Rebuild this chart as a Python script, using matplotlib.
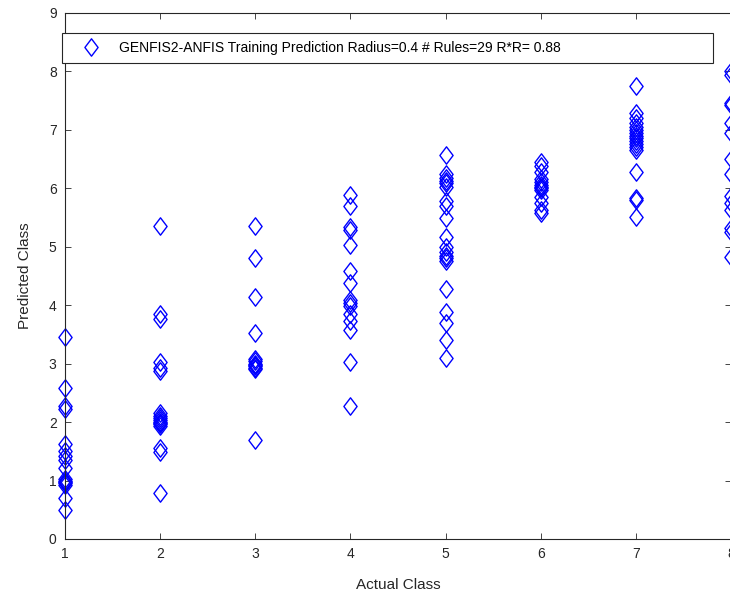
import matplotlib

matplotlib.use('Agg')

import matplotlib.pyplot as plt
from matplotlib.path import Path

clase1 = [3.45, 2.58, 2.28, 2.23, 1.62, 1.50, 1.42, 1.35, 1.22, 1.02, 1.00, 0.97, 0.95, 0.93, 0.70, 0.50]
clase2 = [5.36, 3.85, 3.77, 3.03, 2.93, 2.87, 2.15, 2.10, 2.07, 2.03, 2.00, 1.98, 1.96, 1.93, 1.55, 1.48, 0.79]
clase3 = [5.36, 4.81, 4.14, 3.52, 3.08, 3.04, 3.00, 2.98, 2.96, 2.93, 2.90, 1.69]
clase4 = [5.88, 5.70, 5.33, 5.28, 5.03, 4.58, 4.38, 4.08, 4.04, 3.98, 3.85, 3.72, 3.58, 3.03, 2.28]
clase5 = [6.57, 6.25, 6.18, 6.12, 6.08, 6.02, 5.78, 5.70, 5.49, 5.17, 5.00, 4.90, 4.84, 4.80, 4.76,
          4.27, 3.88, 3.70, 3.40, 3.09]
clase6 = [6.45, 6.38, 6.28, 6.15, 6.10, 6.05, 6.02, 6.00, 5.97, 5.85, 5.75, 5.62, 5.57]
clase7 = [7.75, 7.28, 7.20, 7.12, 7.05, 7.00, 6.95, 6.90, 6.85, 6.80, 6.75, 6.70, 6.65, 6.28, 5.84, 5.80, 5.51]
clase8 = [8.00, 7.93, 7.45, 7.42, 7.12, 6.95, 6.50, 6.25, 5.86, 5.75, 5.62, 5.32, 5.25, 4.83]

columnas = [clase1, clase2, clase3, clase4, clase5, clase6, clase7, clase8]
etiqueta = "GENFIS2-ANFIS Training Prediction Radius=0.4 # Rules=29 R*R= 0.88"

# rombo estilo MATLAB (mas alto que ancho)
rombo = Path([(0, 1), (0.76, 0), (0, -1), (-0.76, 0), (0, 1)],
             [Path.MOVETO, Path.LINETO, Path.LINETO, Path.LINETO, Path.CLOSEPOLY])

plt.rcParams['font.family'] = ['Liberation Sans', 'DejaVu Sans']

fig = plt.figure(figsize=(7.3, 5.98), dpi=100)
ax = fig.add_axes([0.089, 0.0987, 0.9123, 0.880])

xs, ys = [], []
for i, col in enumerate(columnas):
    xs += [i + 1] * len(col)
    ys += col

ax.plot(xs, ys, linestyle='none', marker=rombo, markersize=12.5,
        markerfacecolor='none', markeredgecolor='#0000ff', markeredgewidth=1.0,
        clip_on=False, label=etiqueta)

ax.set_xlim(1, 8)
ax.set_ylim(0, 9)
ax.set_xticks(range(1, 9))
ax.set_yticks(range(0, 10))

gris = '#262626'
for s in ax.spines.values():
    s.set_color(gris)
    s.set_linewidth(0.8)
ax.tick_params(direction='in', top=True, right=True, length=4, width=0.6,
               colors=gris, labelsize=10, pad=6)

ax.set_xlabel("Actual Class", fontsize=11, color=gris, labelpad=12)
ax.set_ylabel("Predicted Class", fontsize=11, color=gris, labelpad=12)

leg = ax.legend(loc='upper left', bbox_to_anchor=(-0.0045, 0.903, 0.977, 0.059),
                mode='expand', fontsize=10, frameon=True, fancybox=False,
                handlelength=3.0, handletextpad=0.5, borderpad=0.6, borderaxespad=0)
leg.get_frame().set_edgecolor(gris)
leg.get_frame().set_linewidth(0.8)
leg.get_frame().set_alpha(1)

fig.savefig("out.png", dpi=100)
plt.close(fig)
